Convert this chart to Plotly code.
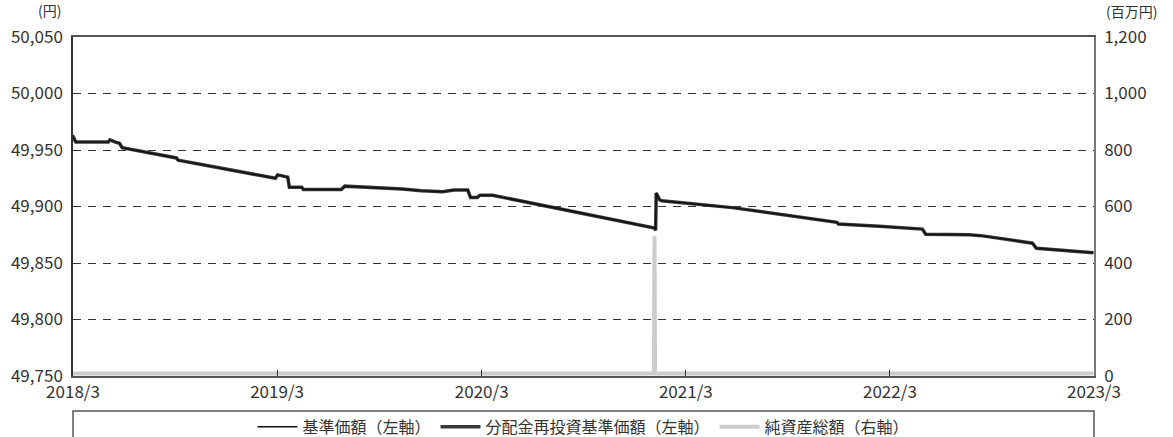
import plotly.graph_objects as go

# ---- data ----
nav_dates = [
    "2018-03-30", "2018-04-05", "2018-06-02", "2018-06-05", "2018-06-15", "2018-06-22",
    "2018-06-27", "2018-10-02", "2018-10-05", "2019-03-28", "2019-04-01", "2019-04-19",
    "2019-04-22", "2019-05-14", "2019-05-17", "2019-07-24", "2019-07-30", "2019-09-18",
    "2019-10-07", "2019-11-10", "2019-12-14", "2020-01-21", "2020-02-10", "2020-03-06",
    "2020-03-11", "2020-03-23", "2020-03-28", "2020-04-19", "2021-02-03",
    "2021-02-05", "2021-02-06", "2021-02-12", "2021-02-16", "2021-06-22", "2021-12-26",
    "2021-12-29", "2022-03-12", "2022-05-28", "2022-06-03", "2022-08-20", "2022-09-13",
    "2022-12-11", "2022-12-18", "2023-03-30",
]
nav_values = [
    49963, 49957, 49957, 49959, 49957, 49956,
    49952, 49943, 49941, 49925, 49928, 49926,
    49917, 49917, 49915, 49915, 49918, 49917,
    49916, 49915.5, 49914, 49913, 49914.5, 49914.5,
    49908, 49908, 49910, 49910, 49881,
    49879, 49912, 49906, 49905, 49899, 49886,
    49884.5, 49882.5, 49880, 49875.5, 49875, 49874,
    49867.5, 49863, 49859,
]
# no distributions: reinvested NAV equals NAV
reinvest_values = list(nav_values)

asset_dates = ["2018-03-30", "2021-02-02", "2021-02-03", "2021-02-04", "2023-03-30"]
asset_values = [9, 9, 495, 9, 9]

tick_dates = ["2018-03-31", "2019-03-31", "2020-03-31", "2021-03-31", "2022-03-31", "2023-03-31"]
tick_labels = ["2018/3", "2019/3", "2020/3", "2021/3", "2022/3", "2023/3"]

left_ticks = [49750, 49800, 49850, 49900, 49950, 50000, 50050]
right_ticks = [0, 200, 400, 600, 800, 1000, 1200]

FONT = "Noto Sans CJK JP"
TXT = "#333333"

fig = go.Figure()

fig.add_trace(go.Scatter(
    x=asset_dates, y=asset_values, yaxis="y2", mode="lines",
    name="純資産総額（右軸）", line=dict(color="#cccccc", width=4),
    legendrank=3,
))
fig.add_trace(go.Scatter(
    x=nav_dates, y=reinvest_values, mode="lines",
    name="分配金再投資基準価額（左軸）", line=dict(color="#3a3a3a", width=3.5),
    legendrank=2,
))
fig.add_trace(go.Scatter(
    x=nav_dates, y=nav_values, mode="lines",
    name="基準価額（左軸）", line=dict(color="#111111", width=1.5),
    legendrank=1,
))

fig.update_layout(
    width=1173, height=437,
    margin=dict(l=73, r=79, t=37, b=61, autoexpand=False),
    paper_bgcolor="white", plot_bgcolor="white",
    font=dict(family=FONT, size=17, color=TXT),
    showlegend=True,
    legend=dict(
        orientation="h", x=0.5, xanchor="center",
        yref="container", y=0.023, yanchor="middle",
        font=dict(size=16, color=TXT), bgcolor="rgba(0,0,0,0)",
        traceorder="normal", itemwidth=40,
    ),
    xaxis=dict(
        type="date", range=["2018-03-31", "2023-03-31"],
        tickvals=tick_dates, ticktext=tick_labels,
        ticks="inside", ticklen=6, tickcolor="#333333",
        showgrid=False, showline=True, linecolor="#555555", linewidth=1.5,
        mirror=True, tickfont=dict(size=17, color=TXT), zeroline=False,
        automargin=False,
    ),
    yaxis=dict(
        range=[49750, 50050], tickvals=left_ticks, tickformat=",",
        showgrid=True, gridcolor="#333333", griddash="8px,7px", gridwidth=1,
        showline=True, linecolor="#333333", linewidth=1.5, ticks="",
        ticklabelstandoff=5, automargin=False,
        tickfont=dict(size=17, color=TXT), zeroline=False,
    ),
    yaxis2=dict(
        range=[0, 1200], tickvals=right_ticks, tickformat=",",
        overlaying="y", side="right", showgrid=False,
        showline=True, linecolor="#777777", linewidth=1.5, ticks="",
        ticklabelstandoff=5, automargin=False,
        tickfont=dict(size=17, color=TXT), zeroline=False,
    ),
    shapes=[
        dict(type="rect", xref="paper", yref="paper", x0=0, x1=1,
             y0=-0.103, y1=-0.30, line=dict(color="#555555", width=1.5),
             fillcolor="rgba(0,0,0,0)", layer="below"),
    ],
    annotations=[
        dict(text="(円)", xref="paper", yref="paper", x=0, y=1.0,
             xanchor="right", yanchor="bottom", yshift=15, xshift=-10, showarrow=False,
             font=dict(size=14, color=TXT)),
        dict(text="(百万円)", xref="paper", yref="paper", x=1.0, y=1.0,
             xanchor="left", yanchor="bottom", yshift=14, xshift=10, showarrow=False,
             font=dict(size=14, color=TXT)),
    ],
)

fig.write_html(
    "out.html",
    config={"displayModeBar": False},
    post_script="document.body.style.margin='0px';",
)
